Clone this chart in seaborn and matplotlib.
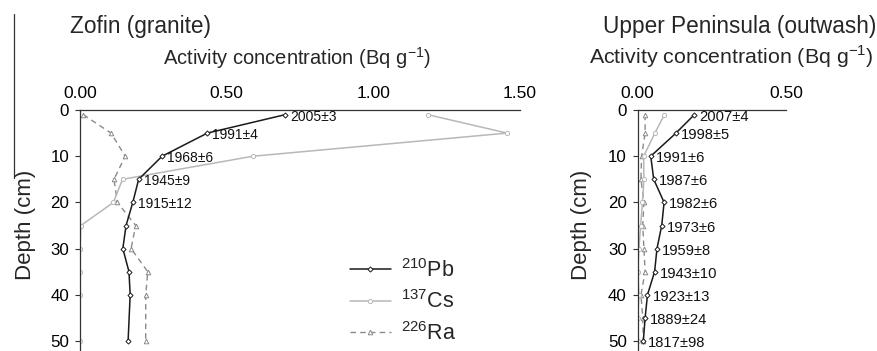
import matplotlib
matplotlib.use("Agg")
import matplotlib.pyplot as plt
import matplotlib.lines as mlines
import seaborn as sns

# depth of each sample (cm)
zofin_depth = [1, 5, 10, 15, 20, 25, 30, 35, 40, 50]
zofin_pb = [0.70, 0.434, 0.28, 0.20, 0.18, 0.157, 0.146, 0.167, 0.171, 0.164]
zofin_cs = [1.185, 1.456, 0.59, 0.145, 0.114, 0.003, 0.0, 0.0, 0.0, 0.0]
zofin_ra = [0.011, 0.106, 0.154, 0.116, 0.127, 0.19, 0.174, 0.231, 0.224, 0.224]
zofin_dates = ["2005±3", "1991±4", "1968±6", "1945±9", "1915±12"]

up_depth = [1, 5, 10, 15, 20, 25, 30, 35, 40, 45, 50]
up_pb = [0.191, 0.129, 0.044, 0.054, 0.089, 0.081, 0.065, 0.057, 0.033, 0.025, 0.019]
up_cs = [0.090, 0.058, 0.020, 0.021, 0.016, 0.010, 0.004, 0.0, 0.004, 0.0, 0.0]
up_ra = [0.025, 0.025, 0.013, 0.011, 0.021, 0.017, 0.021, 0.025, 0.011, 0.017, 0.019]
up_dates = ["2007±4", "1998±5", "1991±6", "1987±6", "1982±6", "1973±6",
            "1959±8", "1943±10", "1923±13", "1889±24", "1817±98"]

x_ticks_zofin = [0.0, 0.5, 1.0, 1.5]
x_ticks_up = [0.0, 0.5]
y_ticks = [0, 10, 20, 30, 40, 50]

sns.set_style("ticks")
plt.rcParams["font.family"] = ["Liberation Sans", "DejaVu Sans"]

W, H = 877, 351
fig = plt.figure(figsize=(W / 100, H / 100), dpi=100)
Y_MAX = 241 / 4.62  # depth at bottom edge of the figure

PB_KW = dict(color="#1a1a1a", lw=1.1, marker="D", markersize=2.6,
             markerfacecolor="white", markeredgecolor="#1a1a1a", markeredgewidth=0.7)
CS_KW = dict(color="#b8b8b8", lw=1.1, marker="o", markersize=3.0,
             markerfacecolor="white", markeredgecolor="#b8b8b8", markeredgewidth=0.7)
RA_KW = dict(color="#8a8a8a", lw=1.0, marker="^", markersize=3.3, linestyle=(0, (4, 3)),
             markerfacecolor="white", markeredgecolor="#8a8a8a", markeredgewidth=0.7)


def depth_panel(rect, depth, pb, cs, ra, dates, xmax, xticks, date_size):
    ax = fig.add_axes(rect)
    sns.lineplot(x=ra, y=depth, ax=ax, sort=False, estimator=None, **RA_KW)
    sns.lineplot(x=cs, y=depth, ax=ax, sort=False, estimator=None, **CS_KW)
    sns.lineplot(x=pb, y=depth, ax=ax, sort=False, estimator=None, **PB_KW)
    for x, y, s in zip(pb, depth, dates):
        ax.annotate(s, (x, y), xytext=(5, -2), textcoords="offset pixels",
                    ha="left", va="center", fontsize=date_size, color="#111111")
    ax.set_xlim(0, xmax)
    ax.set_ylim(Y_MAX, 0)
    ax.set_xticks(xticks)
    ax.set_xticklabels([f"{t:.2f}" for t in xticks])
    ax.set_yticks(y_ticks)
    ax.xaxis.tick_top()
    sns.despine(ax=ax, top=False, right=True, bottom=True, left=False)
    for sp in ("top", "left"):
        ax.spines[sp].set_color("#333333")
        ax.spines[sp].set_linewidth(0.9)
    ax.tick_params(axis="x", direction="out", length=3, width=0.8, pad=3.5,
                   labelsize=12.5, colors="#333333", labelcolor="black")
    ax.tick_params(axis="y", direction="out", length=3.6, width=0.8, pad=4.3,
                   labelsize=12.2, colors="#333333", labelcolor="black")
    ax.set_xlabel("")
    ax.set_ylabel("")
    ax.patch.set_alpha(0)
    return ax


ax1 = depth_panel([80 / W, 0, 440 / W, 241 / H], zofin_depth, zofin_pb, zofin_cs,
                  zofin_ra, zofin_dates, 1.5, x_ticks_zofin, 10)
ax2 = depth_panel([637.7 / W, 0, 148.3 / W, 241 / H], up_depth, up_pb, up_cs,
                  up_ra, up_dates, 0.5, x_ticks_up, 10.6)

# titles and axis labels
fig.text(70 / W, 1 - 32.5 / H, "Zofin (granite)", fontsize=16.3, va="baseline", ha="left")
fig.text(163 / W, 1 - 64.5 / H, r"Activity concentration (Bq g$^{\mathregular{-1}}$)",
         fontsize=14.5, va="baseline", ha="left")
fig.text(603 / W, 1 - 32.5 / H, "Upper Peninsula (outwash)", fontsize=16.3,
         va="baseline", ha="left")
fig.text(589 / W, 1 - 63.5 / H, r"Activity concentration (Bq g$^{\mathregular{-1}}$)",
         fontsize=15.4, va="baseline", ha="left")
fig.text(25.5 / W, 1 - 225 / H, "Depth (cm)", fontsize=16, rotation=90,
         ha="center", va="center")
fig.text(581 / W, 1 - 225 / H, "Depth (cm)", fontsize=16, rotation=90,
         ha="center", va="center")

# legend
handles = [mlines.Line2D([], [], **PB_KW), mlines.Line2D([], [], **CS_KW),
           mlines.Line2D([], [], **RA_KW)]
labels = [r"$^{\mathregular{210}}$Pb", r"$^{\mathregular{137}}$Cs", r"$^{\mathregular{226}}$Ra"]
fig.legend(handles, labels, loc="center", bbox_to_anchor=(403 / W, 1 - 302 / H),
           frameon=False, fontsize=15.5, handlelength=1.9, handletextpad=0.45,
           labelspacing=0.4, borderpad=0)

# stray frame line at the left edge of the reference
fig.add_artist(mlines.Line2D([13.5 / W, 13.5 / W], [1 - 14 / H, 1 - 178 / H],
                             color="#333333", lw=0.9))

fig.savefig("out.png", dpi=100)
